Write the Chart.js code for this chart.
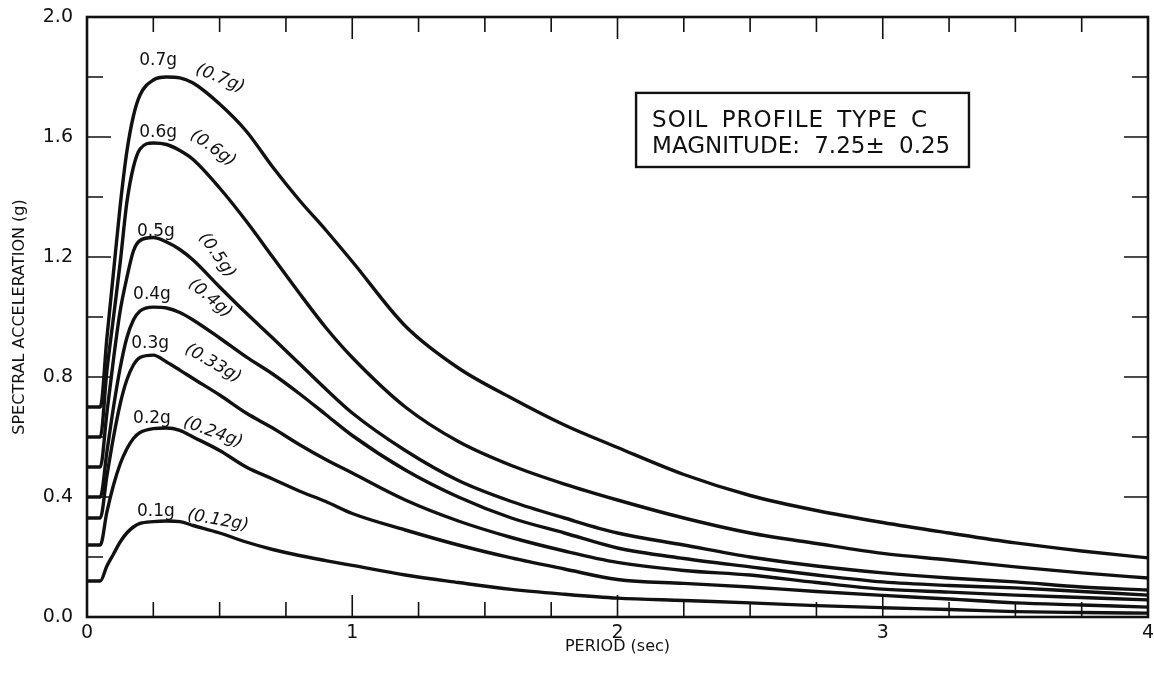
<!DOCTYPE html>
<html>
<head>
<meta charset="utf-8">
<script src="https://cdn.jsdelivr.net/npm/chart.js@4.4.0/dist/chart.umd.min.js"></script>
<style>
  html, body { margin: 0; padding: 0; background: #fff; }
  #wrap { width: 1154px; height: 675px; }
</style>
</head>
<body>
<div id="wrap"><canvas id="spectra"></canvas></div>
<script>
// period (sec) grid shared by every curve
const periods = [0, 0.05, 0.075, 0.1, 0.125, 0.15, 0.175, 0.2, 0.25, 0.3, 0.35, 0.4, 0.5, 0.6, 0.7, 0.8, 0.9, 1.0,
                 1.2, 1.4, 1.6, 1.8, 2.0, 2.25, 2.5, 2.75, 3.0, 3.25, 3.5, 3.75, 4.0];

// spectral acceleration (g)
const sa07 = [0.70, 0.70, 0.93, 1.15, 1.37, 1.55, 1.67, 1.74, 1.79, 1.80, 1.797, 1.78, 1.71, 1.62, 1.50, 1.39, 1.29, 1.185,
              0.97, 0.83, 0.73, 0.64, 0.565, 0.475, 0.405, 0.355, 0.315, 0.28, 0.247, 0.22, 0.197];
const sa06 = [0.60, 0.60, 0.82, 1.00, 1.18, 1.38, 1.50, 1.56, 1.58, 1.575, 1.555, 1.525, 1.43, 1.32, 1.20, 1.08, 0.965, 0.865,
              0.70, 0.585, 0.505, 0.443, 0.39, 0.33, 0.28, 0.245, 0.212, 0.19, 0.167, 0.147, 0.13];
const sa05 = [0.50, 0.50, 0.68, 0.86, 1.02, 1.13, 1.22, 1.255, 1.265, 1.25, 1.225, 1.19, 1.10, 1.013, 0.93, 0.845, 0.76, 0.68,
              0.555, 0.455, 0.385, 0.33, 0.28, 0.24, 0.20, 0.17, 0.147, 0.13, 0.117, 0.10, 0.09];
const sa04 = [0.40, 0.40, 0.55, 0.70, 0.83, 0.93, 0.99, 1.02, 1.033, 1.03, 1.015, 0.99, 0.93, 0.867, 0.81, 0.745, 0.675, 0.605,
              0.49, 0.40, 0.33, 0.28, 0.23, 0.195, 0.167, 0.14, 0.117, 0.105, 0.097, 0.085, 0.073];
const sa03 = [0.33, 0.33, 0.47, 0.60, 0.71, 0.79, 0.84, 0.865, 0.873, 0.85, 0.823, 0.795, 0.74, 0.68, 0.63, 0.575, 0.525, 0.48,
              0.39, 0.32, 0.265, 0.22, 0.182, 0.155, 0.14, 0.115, 0.093, 0.083, 0.073, 0.065, 0.057];
const sa02 = [0.24, 0.24, 0.35, 0.44, 0.51, 0.56, 0.595, 0.615, 0.628, 0.63, 0.622, 0.60, 0.555, 0.50, 0.46, 0.42, 0.385, 0.345,
              0.29, 0.24, 0.197, 0.16, 0.125, 0.112, 0.10, 0.085, 0.072, 0.06, 0.047, 0.04, 0.033];
const sa01 = [0.12, 0.12, 0.17, 0.21, 0.25, 0.28, 0.30, 0.312, 0.318, 0.32, 0.318, 0.305, 0.28, 0.25, 0.225, 0.205, 0.188, 0.172,
              0.14, 0.115, 0.092, 0.076, 0.063, 0.055, 0.047, 0.038, 0.031, 0.025, 0.018, 0.015, 0.013];

const rockLabels = ['0.7g', '0.6g', '0.5g', '0.4g', '0.3g', '0.2g', '0.1g'];
const soilLabels = ['(0.7g)', '(0.6g)', '(0.5g)', '(0.4g)', '(0.33g)', '(0.24g)', '(0.12g)'];
const xTicks = [0, 1, 2, 3, 4];
const yTicks = [0.0, 0.4, 0.8, 1.2, 1.6, 2.0];
const boxLines = ['SOIL PROFILE TYPE C', 'MAGNITUDE: 7.25\u00b1 0.25'];

// where the curve labels sit (period, g) and how much they tilt
const rockAt = [[0.268, 1.855], [0.268, 1.615], [0.26, 1.285], [0.245, 1.075], [0.238, 0.912], [0.245, 0.662], [0.26, 0.352]];
const soilAt = [[0.502, 1.795], [0.475, 1.562], [0.49, 1.205], [0.464, 1.062], [0.475, 0.845], [0.475, 0.615], [0.494, 0.322]];
const soilTilt = [22, 35, 55, 40, 30, 20, 10];

const FONT = '"DejaVu Sans", "Liberation Sans", sans-serif';
const INK = '#111';

const series = [sa07, sa06, sa05, sa04, sa03, sa02, sa01];
const datasets = series.map((vals, i) => ({
  label: rockLabels[i],
  data: periods.map((t, k) => ({ x: t, y: vals[k] })),
  borderColor: INK,
  borderWidth: 3.4,
  pointRadius: 0,
  fill: false,
  cubicInterpolationMode: 'monotone'
}));

const decorations = {
  id: 'decorations',
  afterDatasetsDraw(chart) {
    const { ctx, chartArea: a, scales: { x, y } } = chart;
    ctx.save();
    ctx.strokeStyle = INK;
    ctx.fillStyle = INK;

    // frame
    ctx.lineWidth = 2.6;
    ctx.strokeRect(a.left, a.top, a.right - a.left, a.bottom - a.top);

    // inward ticks on all four sides
    ctx.lineWidth = 1.6;
    ctx.beginPath();
    for (let i = 0; i <= 16; i++) {
      const px = x.getPixelForValue(i * 0.25);
      const len = i % 4 === 0 ? 22 : 15;
      ctx.moveTo(px, a.bottom); ctx.lineTo(px, a.bottom - len);
      ctx.moveTo(px, a.top); ctx.lineTo(px, a.top + len);
    }
    for (let i = 0; i <= 10; i++) {
      const py = y.getPixelForValue(i * 0.2);
      const len = i % 2 === 0 ? 24 : 16;
      ctx.moveTo(a.left, py); ctx.lineTo(a.left + len, py);
      ctx.moveTo(a.right, py); ctx.lineTo(a.right - len, py);
    }
    ctx.stroke();

    // curve labels
    ctx.font = '17px ' + FONT;
    ctx.textAlign = 'center';
    ctx.textBaseline = 'middle';
    rockLabels.forEach((txt, i) => {
      ctx.fillText(txt, x.getPixelForValue(rockAt[i][0]), y.getPixelForValue(rockAt[i][1]));
    });
    ctx.font = 'italic 17px ' + FONT;
    soilLabels.forEach((txt, i) => {
      ctx.save();
      ctx.translate(x.getPixelForValue(soilAt[i][0]), y.getPixelForValue(soilAt[i][1]));
      ctx.rotate(soilTilt[i] * Math.PI / 180);
      ctx.fillText(txt, 0, 0);
      ctx.restore();
    });

    // annotation box
    const bx0 = x.getPixelForValue(2.07), bx1 = x.getPixelForValue(3.325);
    const by0 = y.getPixelForValue(1.747), by1 = y.getPixelForValue(1.50);
    ctx.lineWidth = 2.4;
    ctx.strokeRect(bx0, by0, bx1 - bx0, by1 - by0);
    ctx.font = '23px ' + FONT;
    ctx.textAlign = 'left';
    ctx.textBaseline = 'alphabetic';
    ctx.letterSpacing = '1px';
    ctx.wordSpacing = '5px';
    ctx.fillText(boxLines[0], bx0 + 16, by0 + 34);
    ctx.letterSpacing = '0px';
    ctx.wordSpacing = '7px';
    ctx.fillText(boxLines[1], bx0 + 16, by0 + 60);
    ctx.restore();
  }
};

new Chart(document.getElementById('spectra'), {
  type: 'line',
  data: { datasets },
  options: {
    responsive: true,
    maintainAspectRatio: false,
    animation: false,
    layout: { padding: { top: 17, right: 6, left: 0, bottom: 0 } },
    plugins: { legend: { display: false }, tooltip: { enabled: false } },
    scales: {
      x: {
        type: 'linear', min: 0, max: 4,
        afterBuildTicks: s => { s.ticks = xTicks.map(v => ({ value: v })); },
        afterFit: s => { s.height = 58; s.paddingLeft = 0; s.paddingRight = 0; },
        grid: { display: false, drawTicks: false },
        border: { display: false },
        ticks: { color: INK, padding: 5, font: { family: FONT, size: 19 }, callback: v => String(v) },
        title: { display: true, text: 'PERIOD (sec)', color: INK, font: { family: FONT, size: 16 }, padding: { top: 0, bottom: 19 } }
      },
      y: {
        type: 'linear', min: 0, max: 2,
        afterBuildTicks: s => { s.ticks = yTicks.map(v => ({ value: v })); },
        afterFit: s => { s.width = 87; s.paddingTop = 0; s.paddingBottom = 0; },
        grid: { display: false, drawTicks: false },
        border: { display: false },
        ticks: { color: INK, padding: 14, font: { family: FONT, size: 19 }, callback: v => v.toFixed(1) },
        title: { display: true, text: 'SPECTRAL ACCELERATION (g)', color: INK, font: { family: FONT, size: 16 }, padding: { top: 10, bottom: 0 } }
      }
    }
  },
  plugins: [decorations]
});
</script>
</body>
</html>
